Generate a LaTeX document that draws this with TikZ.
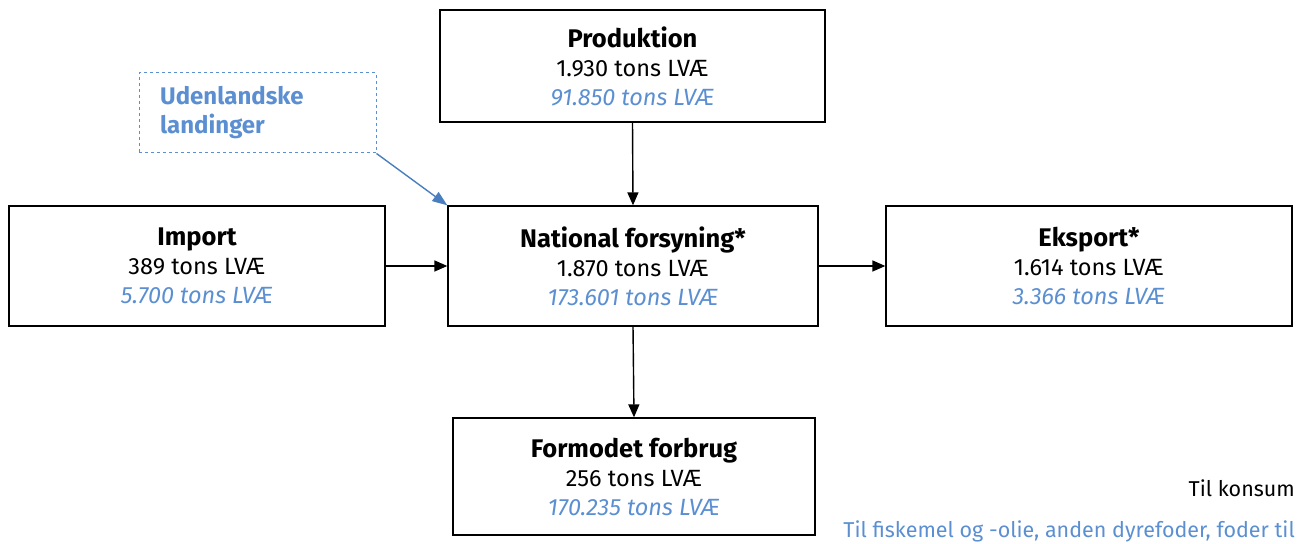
\documentclass[tikz,border=0pt]{standalone}
\usepackage{fontspec}
\setmainfont{Fira Sans}
\usetikzlibrary{arrows.meta}
\definecolor{lblue}{HTML}{5B8FD1}
\definecolor{ablue}{HTML}{4A7EBF}
\newcommand{\ttl}[1]{{\fontsize{25.5}{29}\selectfont\bfseries #1}}
\begin{document}
\begin{tikzpicture}[x=1pt,y=1pt,
  box/.style={draw=black,line width=1.3pt,minimum width=#1,inner sep=0pt,align=center,font=\fontsize{23.5}{29}\selectfont},
  arr/.style={-{Triangle[length=13pt,width=11pt]},line width=1.4pt}]
\useasboundingbox (0,0) rectangle (1297,543);
\node[box=385pt,minimum height=112pt] (prod) at (632.5,477) {\ttl{Produktion}\\1.930 tons LVÆ\\{\color{lblue}\itshape 91.850 tons LVÆ}};
\node[box=376pt,minimum height=120pt] (imp) at (197,277) {\ttl{Import}\\389 tons LVÆ\\{\color{lblue}\itshape 5.700 tons LVÆ}};
\node[box=370pt,minimum height=120pt] (nat) at (633,277) {\ttl{National forsyning*}\\1.870 tons LVÆ\\{\color{lblue}\itshape 173.601 tons LVÆ}};
\node[box=406pt,minimum height=120pt] (eks) at (1089,277) {\ttl{Eksport*}\\1.614 tons LVÆ\\{\color{lblue}\itshape 3.366 tons LVÆ}};
\node[box=362pt,minimum height=117pt] (form) at (634,66.5) {\ttl{Formodet forbrug}\\256 tons LVÆ\\{\color{lblue}\itshape 170.235 tons LVÆ}};
\node[draw=lblue,dashed,line width=1pt,minimum width=237pt,minimum height=80pt,inner sep=0pt] (uden) at (257.5,430) {};
\node[anchor=west,align=left,text=lblue,inner sep=0pt,font=\fontsize{24}{29}\selectfont\bfseries] (udtxt) at (160,430) {Udenlandske\\landinger};
\draw[arr] (prod.south) -- (nat.north);
\draw[arr] (imp.east) -- (nat.west);
\draw[arr] (nat.east) -- (eks.west);
\draw[arr] (nat.south) -- (form.north);
\draw[line width=1.4pt,draw=ablue,fill=ablue,-{Triangle[length=15pt,width=11pt]}] (uden.south east) -- (nat.north west);
\node[anchor=base east,inner sep=0pt,font=\fontsize{21.5}{26}\selectfont] (kons) at (1295,46) {Til konsum};
\node[anchor=base east,inner sep=0pt,text=lblue,font=\fontsize{21.5}{26}\selectfont] (fisk) at (1295,6) {Til fiskemel og -olie, anden dyrefoder, foder til};
\end{tikzpicture}
\end{document}
